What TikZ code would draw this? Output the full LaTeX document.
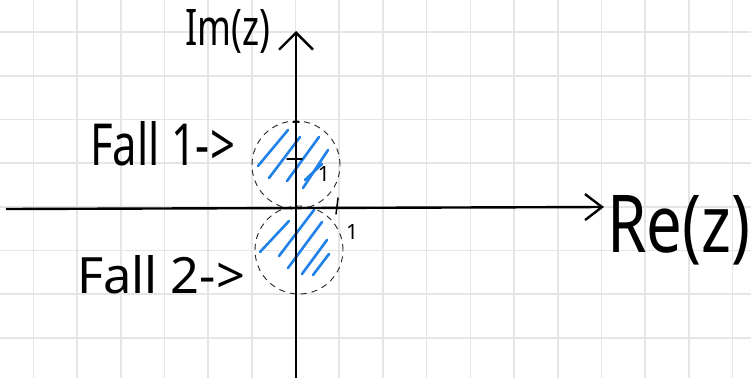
\documentclass[tikz,border=0pt]{standalone}
\usepackage{fontspec}
\setmainfont{Noto Sans}
\usetikzlibrary{arrows.meta}
\definecolor{gridgray}{RGB}{229,229,229}
\definecolor{hatchblue}{RGB}{32,130,232}
\tikzset{
  gridline/.style={draw=gridgray, line width=1.6pt},
  axis/.style={draw=black, line width=2.4pt, -{Straight Barb[length=17pt,width=34pt]}},
  haxis/.style={draw=black, line width=2.4pt, -{Straight Barb[length=17pt,width=26pt]}},
  region/.style={circle, draw=black!85, dashed, dash pattern=on 6pt off 5pt, line width=0.9pt, inner sep=0pt, minimum size=88pt},
  hatch/.style={draw=hatchblue, line width=2.6pt, line cap=round},
  tick/.style={draw=black, line width=1.5pt, line cap=round},
  lbl/.style={inner sep=0pt, outer sep=0pt, anchor=north west, text=black},
  unitlbl/.style={inner sep=0pt, outer sep=0pt, anchor=center, text=black, font=\fontsize{21}{21}\selectfont}
}
\begin{document}
\begin{tikzpicture}[x=1pt, y=-1pt]
\useasboundingbox (0,0) rectangle (751,378);
\fill[white] (0,0) rectangle (751,378);
% grid
\foreach \i in {0,...,16} {
  \draw[gridline] ({33.3+43.7*\i},0) -- ({33.3+43.7*\i},378);
}
\foreach \j in {0,...,7} {
  \draw[gridline] (0,{32+43.7*\j}) -- (751,{32+43.7*\j});
}
% regions
\node[region] (c1) at (296,165) {};
\node[region] (c2) at (299,250) {};
% hatching, case 1
\draw[hatch] (258,166) -- (288,130);
\draw[hatch] (269,178) -- (300,137);
\draw[hatch] (287,181) -- (319,137);
\draw[hatch] (303,188) -- (328,150);
\draw[hatch] (305,180) -- (322,164);
% hatching, case 2
\draw[hatch] (260,252) -- (289,221);
\draw[hatch] (279,256) -- (314,210);
\draw[hatch] (288,268) -- (322,222);
\draw[hatch] (302,274) -- (327,240);
\draw[hatch] (313,275) -- (329,254);
% axes
\coordinate (yb) at (296,378);
\coordinate (yt) at (296,31);
\coordinate (xl) at (6,209);
\coordinate (xr) at (604,207);
\draw[haxis] (xl) -- (xr);
\draw[axis] (yb) -- (yt);
% ticks
\draw[tick] (287,159) -- (302,159);
\draw[tick] (293,122) -- (299,122);
\draw[tick] (338,198) -- (336,214);
% labels
\node[lbl] (im) at (185,9) {\resizebox{85pt}{36pt}{Im(z)}};
\node[lbl] (re) at (607,195) {\resizebox{143pt}{57pt}{Re(z)}};
\node[lbl] (f1) at (90,121) {\resizebox{145pt}{44pt}{Fall 1->}};
\node[lbl] (f2) at (77,255) {\resizebox{168pt}{38pt}{Fall 2->}};
\node[unitlbl] (one1) at (324,174) {1};
\node[unitlbl] (one2) at (352,232) {1};
\end{tikzpicture}
\end{document}
